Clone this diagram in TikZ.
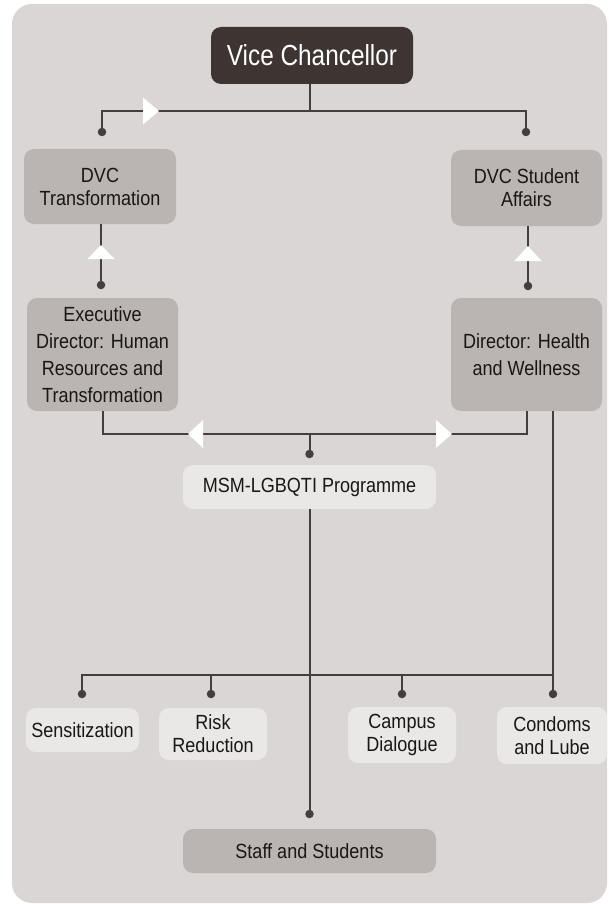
\documentclass[tikz,border=0pt]{standalone}
\usepackage{fontspec}
\setmainfont{Liberation Sans}[FakeStretch=0.88]
\newfontfamily\headfont{Liberation Sans}[FakeStretch=0.84]
\usetikzlibrary{calc}
\definecolor{panel}{HTML}{DAD6D5}
\definecolor{boxdark}{HTML}{3E3533}
\definecolor{boxmid}{HTML}{BAB5B2}
\definecolor{boxlight}{HTML}{EAE8E7}
\definecolor{wirecol}{HTML}{443E3D}
\definecolor{ink}{HTML}{1A1616}

\begin{document}
\begin{tikzpicture}[x=1pt,y=-1pt,
  box/.style={rounded corners=10pt, inner sep=0pt, align=center, text=ink,
              font=\fontsize{20.5}{23}\selectfont},
  tallbox/.style={box, font=\fontsize{20.5}{27}\selectfont},
  midbox/.style={fill=boxmid},
  lightbox/.style={fill=boxlight},
  wire/.style={draw=wirecol, line width=2pt},
  dot/.style={circle, fill=wirecol, inner sep=0pt, minimum size=8.5pt},
  pointer/.style={fill=white}]

\useasboundingbox (0,0) rectangle (608,904);
\fill[panel, rounded corners=20pt] (12,4) rectangle (607,903);

% boxes
\node[box, fill=boxdark, text=white, font=\headfont\fontsize{29}{30}\selectfont,
      minimum width=202pt, minimum height=57pt] (vc) at (312,55.5) {Vice Chancellor};
\node[box, midbox, minimum width=152pt, minimum height=75pt] (dvct) at (100,186.5) {DVC\\Transformation};
\node[box, midbox, minimum width=151pt, minimum height=76pt] (dvcs) at (526.5,188) {DVC Student\\Affairs};
\node[tallbox, midbox, minimum width=151pt, minimum height=113pt] (exec) at (102.5,354.5)
     {Executive\\Director: Human\\Resources and\\Transformation};
\node[tallbox, midbox, minimum width=151pt, minimum height=113pt] (dhw) at (526.5,354.5)
     {Director: Health\\and Wellness};
\node[box, lightbox, minimum width=253pt, minimum height=44pt] (msm) at (309.5,487) {MSM-LGBQTI Programme};
\node[box, lightbox, minimum width=113pt, minimum height=44pt] (sens) at (82.5,730) {Sensitization};
\node[box, lightbox, minimum width=108pt, minimum height=52pt] (risk) at (213,734) {Risk\\Reduction};
\node[box, lightbox, minimum width=108pt, minimum height=56pt] (camp) at (402,735) {Campus\\Dialogue};
\node[box, lightbox, minimum width=110pt, minimum height=57pt] (cond) at (552,735.5) {Condoms\\and Lube};
\node[box, midbox, minimum width=253pt, minimum height=44pt] (staff) at (309.5,851) {Staff and Students};

% junctions and dot ends
\coordinate (j1) at (310,111);
\coordinate (j2) at (309.5,434);
\coordinate (j3) at (553,675);
\coordinate (p1) at (102,132);
\coordinate (p2) at (526,132);
\coordinate (p3) at (101,285);
\coordinate (p4) at (528,286);
\coordinate (p5) at (309.5,454);
\coordinate (p6) at (309.5,814);
\coordinate (p7) at (82,694);
\coordinate (p8) at (211,694);
\coordinate (p9) at (402,694);
\coordinate (p10) at (553,694);

% connectors
\draw[wire] (vc.south -| j1) -- (j1);
\draw[wire] (j1) -| (p1);
\draw[wire] (j1) -| (p2);
\draw[wire] (p3 |- dvct.south) -- (p3);
\draw[wire] (p4 |- dvcs.south) -- (p4);
\draw[wire] (exec.south) -- ++(0,23) -| (dhw.south);
\draw[wire] (j2) -- (p5);
\draw[wire] (msm.south) -- (p6);
\draw[wire] (j3 |- dhw.south) -- (p10);
\draw[wire] (j3) -| (p7);
\draw[wire] (p8 |- j3) -- (p8);
\draw[wire] (p9 |- j3) -- (p9);

% white pointers on the lines
\fill[pointer] (159,111) -- (143,97.5) -- (143,124.5) -- cycle;
\fill[pointer] (101,245) -- (87.5,259) -- (114.5,259) -- cycle;
\fill[pointer] (528,246) -- (514.5,261) -- (541.5,261) -- cycle;
\fill[pointer] (188,434) -- (203,420) -- (203,448) -- cycle;
\fill[pointer] (452,434) -- (436,420) -- (436,448) -- cycle;

% dots
\foreach \p in {p1,p2,p3,p4,p5,p6,p7,p8,p9,p10}
  \node[dot] at (\p) {};
\end{tikzpicture}
\end{document}
